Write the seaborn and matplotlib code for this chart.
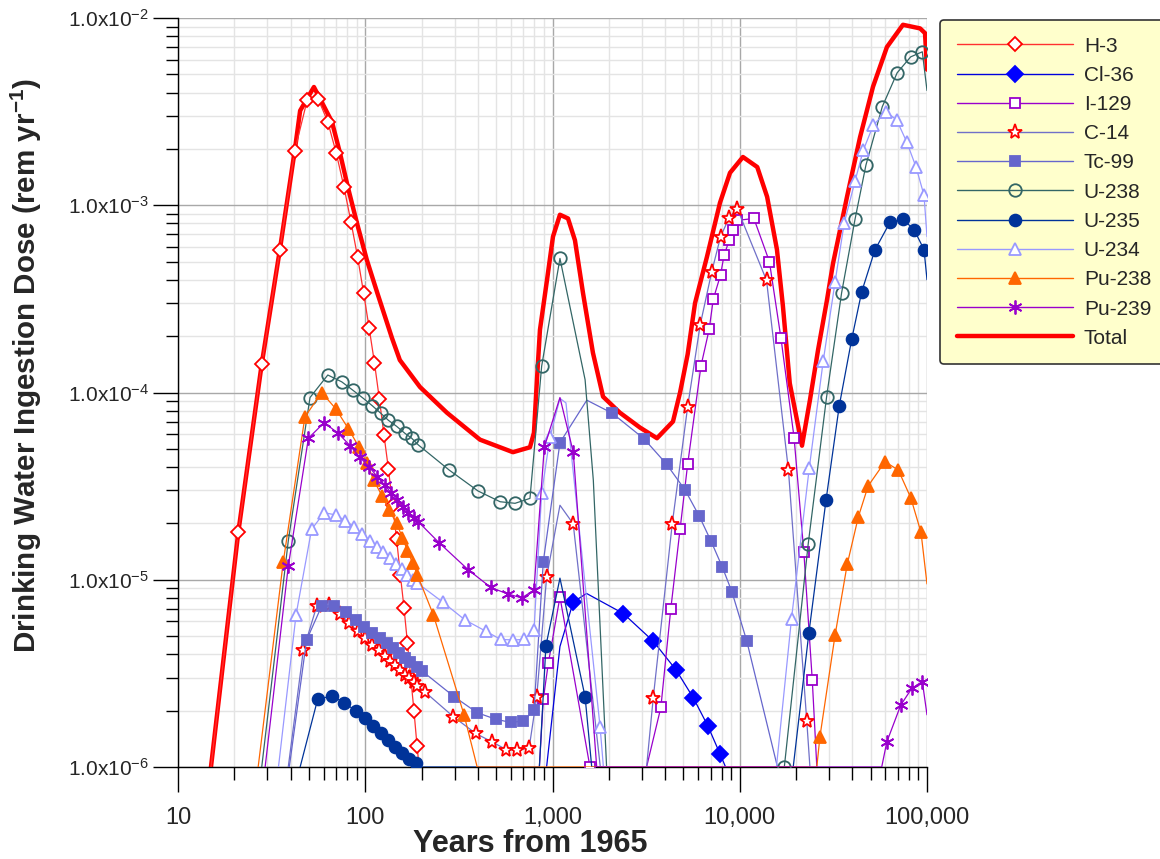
import numpy as np
import matplotlib
matplotlib.use("Agg")
import matplotlib.pyplot as plt
from matplotlib.lines import Line2D
from matplotlib.ticker import FixedLocator, LogLocator, NullFormatter
import seaborn as sns

# ---------------- data (years from 1965, dose rem/yr) ----------------
SERIES = ["H-3", "Cl-36", "I-129", "C-14", "Tc-99", "U-238", "U-235", "U-234", "Pu-238", "Pu-239", "Total"]

# marker points
H3_X = [21, 28, 35, 42, 49, 56, 63, 70, 77, 84, 91, 98, 105, 112, 119, 126, 133, 140, 147, 154, 161, 168, 175, 182, 189]
H3_Y = [1.8e-5, 1.42e-4, 5.8e-4, 1.95e-3, 3.65e-3, 3.7e-3, 2.8e-3, 1.9e-3, 1.25e-3, 8.1e-4, 5.3e-4, 3.4e-4, 2.2e-4,
        1.44e-4, 9.2e-5, 5.9e-5, 3.9e-5, 2.5e-5, 1.65e-5, 1.06e-5, 7.1e-6, 4.6e-6, 3.0e-6, 2.0e-6, 1.3e-6]
# line-only points
H3_LX = [15, 194]
H3_LY = [1e-6, 1e-6]

CL36_X = [1290, 2390, 3450, 4570, 5650, 6750, 7860]
CL36_Y = [7.6e-6, 6.6e-6, 4.7e-6, 3.3e-6, 2.34e-6, 1.66e-6, 1.17e-6]
CL36_LX = [930, 1096, 1520, 8400]
CL36_LY = [1e-6, 4.4e-6, 8.45e-6, 1e-6]

I129_X = [893, 950, 1096, 1585, 3790, 4280, 4800, 5270, 6210, 6870, 7220, 7900, 8240, 8790, 9240, 9700, 11900,
          14400, 16600, 19500, 22000, 24400]
I129_Y = [2.31e-6, 3.58e-6, 8.1e-6, 1.0e-6, 2.08e-6, 6.95e-6, 1.86e-5, 4.14e-5, 1.39e-4, 2.18e-4, 3.15e-4, 4.25e-4,
          5.4e-4, 6.5e-4, 7.4e-4, 8.3e-4, 8.5e-4, 5.0e-4, 1.95e-4, 5.75e-5, 1.4e-5, 2.9e-6]
I129_LX = [851, 3180, 25800]
I129_LY = [1e-6, 1e-6, 1e-6]

C14_X = [46.7, 55, 64, 73, 82, 91, 100, 109, 118, 127, 136, 145, 154, 163, 172, 181, 190, 208, 295, 389, 477, 565,
         649, 750, 824, 930, 1290, 3450, 4360, 5270, 6140, 7080, 7900, 8790, 9700, 13900, 18200, 22800]
C14_Y = [4.2e-6, 7.2e-6, 7.3e-6, 6.6e-6, 5.9e-6, 5.3e-6, 4.9e-6, 4.5e-6, 4.2e-6, 3.9e-6, 3.7e-6, 3.5e-6, 3.3e-6,
         3.1e-6, 3.0e-6, 2.85e-6, 2.7e-6, 2.52e-6, 1.86e-6, 1.51e-6, 1.36e-6, 1.24e-6, 1.23e-6, 1.26e-6, 2.37e-6,
         1.03e-5, 1.99e-5, 2.33e-6, 1.99e-5, 8.4e-5, 2.28e-4, 4.4e-4, 6.8e-4, 8.6e-4, 9.6e-4, 3.97e-4, 3.85e-5, 1.76e-6]
C14_LX = [38.8, 1096, 1800, 3180, 23700]
C14_LY = [1e-6, 2.5e-5, 1e-6, 1e-6, 1e-6]

TC99_X = [48.6, 58.5, 68.1, 78.6, 89, 99, 109, 120, 130, 140, 152, 163, 174, 188, 200, 299, 396, 497, 598, 698, 797,
          893, 1096, 2085, 3080, 4070, 5110, 6060, 7020, 8070, 9090, 10900]
TC99_Y = [4.76e-6, 7.24e-6, 7.24e-6, 6.75e-6, 6.1e-6, 5.6e-6, 5.2e-6, 4.86e-6, 4.57e-6, 4.31e-6, 4.05e-6, 3.83e-6,
          3.64e-6, 3.43e-6, 3.27e-6, 2.37e-6, 1.95e-6, 1.80e-6, 1.73e-6, 1.76e-6, 2.01e-6, 1.25e-5, 5.4e-5, 7.75e-5,
          5.66e-5, 4.14e-5, 3.01e-5, 2.2e-5, 1.61e-5, 1.17e-5, 8.6e-6, 4.71e-6]
TC99_LX = [39.3, 1525, 15900]
TC99_LY = [1e-6, 9.1e-5, 1e-6]

U238_X = [38.8, 50.7, 63.1, 74.9, 85.7, 97.7, 109, 121, 133, 147, 163, 177, 192, 281, 400, 525, 631, 758, 875, 1096,
          17300, 23200, 29100, 35000, 41300, 47200, 57700, 69300, 81800, 94400]
U238_Y = [1.61e-5, 9.4e-5, 1.24e-4, 1.14e-4, 1.03e-4, 9.3e-5, 8.5e-5, 7.75e-5, 7.1e-5, 6.6e-5, 6.05e-5, 5.7e-5,
          5.25e-5, 3.85e-5, 2.98e-5, 2.61e-5, 2.56e-5, 2.72e-5, 1.38e-4, 5.2e-4, 1.0e-6, 1.55e-5, 9.5e-5, 3.41e-4,
          8.45e-4, 1.64e-3, 3.36e-3, 5.1e-3, 6.2e-3, 6.6e-3]
U238_LX = [28, 1493, 1652, 1945, 100000]
U238_LY = [1e-6, 1.17e-4, 3.4e-5, 1e-6, 4.1e-3]

U235_X = [55.7, 66.7, 77.1, 89, 99.7, 110, 121, 133, 145, 158, 172, 187, 922, 1493, 23400, 28900, 34000, 39600,
          44800, 52700, 63400, 74600, 85300, 96400]
U235_Y = [2.3e-6, 2.4e-6, 2.2e-6, 2.0e-6, 1.82e-6, 1.66e-6, 1.51e-6, 1.39e-6, 1.28e-6, 1.19e-6, 1.11e-6, 1.05e-6,
          4.43e-6, 2.37e-6, 5.2e-6, 2.67e-5, 8.5e-5, 1.92e-4, 3.45e-4, 5.77e-4, 8.1e-4, 8.4e-4, 7.4e-4, 5.8e-4]
U235_LX = [44.9, 195, 851, 1096, 1620, 19300, 100000]
U235_LY = [1e-6, 1e-6, 1e-6, 1.02e-5, 1e-6, 1e-6, 4.0e-4]

U234_X = [42.7, 51.7, 60.4, 69.5, 78, 87.1, 96.4, 106, 115, 125, 136, 146, 157, 168, 179, 190, 259, 341, 442, 529,
          618, 705, 797, 875, 970, 1795, 18900, 23500, 27900, 32300, 36100, 41300, 45700, 51700, 60400, 68900,
          77900, 87400, 96400]
U234_Y = [6.5e-6, 1.86e-5, 2.28e-5, 2.22e-5, 2.07e-5, 1.92e-5, 1.75e-5, 1.62e-5, 1.50e-5, 1.40e-5, 1.30e-5,
          1.21e-5, 1.14e-5, 1.06e-5, 9.97e-6, 9.6e-6, 7.6e-6, 6.1e-6, 5.3e-6, 4.8e-6, 4.77e-6, 4.8e-6, 5.4e-6,
          2.9e-5, 5.8e-5, 1.64e-6, 6.2e-6, 3.94e-5, 1.47e-4, 3.9e-4, 8.0e-4, 1.35e-3, 1.97e-3, 2.68e-3, 3.16e-3,
          2.85e-3, 2.18e-3, 1.60e-3, 1.13e-3]
U234_LX = [34.4, 1096, 1180, 1870, 15700, 100000]
U234_LY = [1e-6, 9.3e-5, 8.8e-5, 1e-6, 1e-6, 6.8e-4]

PU238_X = [36.5, 47.6, 58.5, 69.5, 81.3, 92.7, 102, 111, 123, 134, 147, 158, 168, 179, 190, 231, 337, 26800, 32300,
           37500, 43000, 48500, 59700, 70300, 81900, 92900]
PU238_Y = [1.25e-5, 7.4e-5, 1.0e-4, 8.2e-5, 6.4e-5, 5.1e-5, 4.2e-5, 3.4e-5, 2.8e-5, 2.36e-5, 2.0e-5, 1.68e-5,
           1.43e-5, 1.23e-5, 1.06e-5, 6.5e-6, 1.9e-6, 1.45e-6, 5.07e-6, 1.21e-5, 2.17e-5, 3.17e-5, 4.27e-5,
           3.85e-5, 2.74e-5, 1.79e-5]
PU238_LX = [26.8, 396, 25800, 100000]
PU238_LY = [1e-6, 1e-6, 1e-6, 9.5e-6]

PU239_X = [38.8, 49.7, 60.3, 71.8, 83, 93.8, 105, 116, 127, 138, 148, 160, 170, 181, 192, 249, 355, 468, 576, 685,
           796, 904, 1291, 61000, 72400, 82900, 94400]
PU239_Y = [1.18e-5, 5.7e-5, 6.9e-5, 6.05e-5, 5.2e-5, 4.5e-5, 4.0e-5, 3.55e-5, 3.2e-5, 2.9e-5, 2.67e-5, 2.45e-5,
           2.26e-5, 2.15e-5, 2.04e-5, 1.57e-5, 1.13e-5, 9.1e-6, 8.4e-6, 8.0e-6, 8.8e-6, 5.1e-5, 4.8e-5, 1.36e-6,
           2.14e-6, 2.63e-6, 2.86e-6]
PU239_LX = [29.2, 1096, 1722, 57300, 100000]
PU239_LY = [1e-6, 9.4e-5, 1e-6, 1e-6, 1.9e-6]

TOTAL_X = [15, 21, 28, 35, 42, 44.9, 53.2, 66.4, 73.3, 80.9, 90.4, 102, 116, 139, 153, 196, 273, 410, 615, 758, 796,
           826, 857, 935, 1006, 1096, 1210, 1318, 1455, 1644, 1862, 2291, 2931, 3614, 4400, 4800, 5270, 5770, 6680,
           7840, 8870, 10400, 12400, 14000, 15800, 17000, 18500, 21500, 23700, 26200, 29200, 31500, 37400, 43900,
           51500, 61100, 74400, 91800, 97600, 100000]
TOTAL_Y = [1e-6, 1.8e-5, 1.42e-4, 5.8e-4, 1.95e-3, 3.2e-3, 4.28e-3, 2.79e-3, 1.9e-3, 1.24e-3, 8.0e-4, 5.1e-4,
           3.4e-4, 1.95e-4, 1.49e-4, 1.07e-4, 7.8e-5, 5.6e-5, 4.8e-5, 5.1e-5, 6.1e-5, 1.17e-4, 2.16e-4, 4.0e-4,
           6.8e-4, 8.9e-4, 8.5e-4, 6.5e-4, 3.4e-4, 1.63e-4, 9.5e-5, 7.8e-5, 6.5e-5, 5.7e-5, 7.0e-5, 1.0e-4, 1.6e-4,
           3.0e-4, 5.3e-4, 1.03e-3, 1.49e-3, 1.81e-3, 1.60e-3, 1.11e-3, 5.8e-4, 2.9e-4, 1.12e-4, 5.2e-5, 9.1e-5,
           1.69e-4, 3.1e-4, 4.9e-4, 1.11e-3, 2.31e-3, 4.3e-3, 7.0e-3, 9.2e-3, 8.8e-3, 8.3e-3, 5.3e-3]

X_TICKS = [10, 100, 1000, 10000, 100000]
X_TICK_LABELS = ["10", "100", "1,000", "10,000", "100,000"]
Y_TICKS = [1e-6, 1e-5, 1e-4, 1e-3, 1e-2]
Y_TICK_LABELS = [r"$\mathregular{1.0x10^{-6}}$", r"$\mathregular{1.0x10^{-5}}$", r"$\mathregular{1.0x10^{-4}}$",
                 r"$\mathregular{1.0x10^{-3}}$", r"$\mathregular{1.0x10^{-2}}$"]

# ---------------- styling ----------------
sns.set_style("white")
plt.rcParams["font.family"] = ["Liberation Sans", "DejaVu Sans"]

W, H = 1160, 859
fig = plt.figure(figsize=(W / 100, H / 100), dpi=100)
ax = fig.add_axes([178 / W, 1 - 767 / H, (927 - 178) / W, (767 - 18) / H])
ax.set_xscale("log")
ax.set_yscale("log")

# name: (mx, my, lx, ly, line color, marker, ms, face, edge)
STYLE = {
    "H-3":   (H3_X, H3_Y, H3_LX, H3_LY, "#FF3030", "D", 7.5, "white", "#FF0000"),
    "Cl-36": (CL36_X, CL36_Y, CL36_LX, CL36_LY, "#0000DD", "D", 8, "#0000FF", "#0000FF"),
    "I-129": (I129_X, I129_Y, I129_LX, I129_LY, "#9900CC", "s", 7.5, "white", "#9900CC"),
    "C-14":  (C14_X, C14_Y, C14_LX, C14_LY, "#7070C8", "*", 11, "white", "#FF0000"),
    "Tc-99": (TC99_X, TC99_Y, TC99_LX, TC99_LY, "#6666CC", "s", 7.5, "#6666CC", "#6666CC"),
    "U-238": (U238_X, U238_Y, U238_LX, U238_LY, "#336666", "o", 9, "none", "#336666"),
    "U-235": (U235_X, U235_Y, U235_LX, U235_LY, "#003399", "o", 8.5, "#003399", "#003399"),
    "U-234": (U234_X, U234_Y, U234_LX, U234_LY, "#9999FF", "^", 9, "white", "#9999FF"),
    "Pu-238": (PU238_X, PU238_Y, PU238_LX, PU238_LY, "#FF6600", "^", 9, "#FF6600", "#FF6600"),
    "Pu-239": (PU239_X, PU239_Y, PU239_LX, PU239_LY, "#9900CC", (6, 2, 0), 10, "#9900CC", "#9900CC"),
}

# total first (drawn beneath)
sns.lineplot(x=TOTAL_X, y=TOTAL_Y, ax=ax, sort=False, estimator=None, color="#FF0000",
             linewidth=3.2, zorder=2, legend=False)

handles = []
z = 3
for name in SERIES[:-1]:
    mx, my, lx, ly, lc, mk, ms, fc, ec = STYLE[name]
    xs = np.array(list(mx) + list(lx), dtype=float)
    ys = np.array(list(my) + list(ly), dtype=float)
    flag = np.array([True] * len(mx) + [False] * len(lx))
    order = np.argsort(xs, kind="stable")
    xs, ys, flag = xs[order], ys[order], flag[order]
    idx = list(np.nonzero(flag)[0])
    sns.lineplot(x=xs, y=ys, ax=ax, sort=False, estimator=None, color=lc, linewidth=0.9,
                 marker=mk, markevery=idx, markersize=ms, markerfacecolor=fc,
                 markeredgecolor=ec, markeredgewidth=1.3, zorder=z, legend=False)
    z += 0.1
    handles.append(Line2D([], [], color=lc, linewidth=1.0, marker=mk, markersize=ms,
                          markerfacecolor=fc, markeredgecolor=ec, markeredgewidth=1.3, label=name))
handles.append(Line2D([], [], color="#FF0000", linewidth=3.2, label="Total"))

ax.set_xlim(10, 100000)
ax.set_ylim(1e-6, 1e-2)

# grid
ax.xaxis.set_minor_locator(LogLocator(base=10, subs=np.arange(2, 10)))
ax.yaxis.set_minor_locator(LogLocator(base=10, subs=np.arange(2, 10)))
ax.xaxis.set_minor_formatter(NullFormatter())
ax.yaxis.set_minor_formatter(NullFormatter())
ax.xaxis.set_major_locator(FixedLocator(X_TICKS))
ax.yaxis.set_major_locator(FixedLocator(Y_TICKS))
ax.set_xticklabels(X_TICK_LABELS)
ax.set_yticklabels(Y_TICK_LABELS)
ax.grid(which="major", color="#A8A8A8", linewidth=1.0, zorder=0)
ax.grid(which="minor", color="#E4E4E4", linewidth=1.0, zorder=0)
ax.set_axisbelow(True)

for s in ["top", "right"]:
    ax.spines[s].set_visible(False)
for s in ["left", "bottom"]:
    ax.spines[s].set_color("black")
    ax.spines[s].set_linewidth(1.0)

ax.tick_params(axis="both", which="both", bottom=True, left=True, top=False, right=False)
ax.tick_params(axis="both", which="major", direction="out", length=18, width=1, color="black")
ax.tick_params(axis="both", which="minor", direction="out", length=9, width=1, color="black")
ax.tick_params(axis="x", which="major", labelsize=17, pad=11)
ax.tick_params(axis="y", which="major", labelsize=15, pad=3)

ax.set_xlabel("Years from 1965", fontsize=22, fontweight="bold",
              family=["Liberation Sans Narrow", "Liberation Sans"])
ax.xaxis.set_label_coords((530 - 178) / 749, (767 - 829) / 749)
ax.set_ylabel(r"Drinking Water Ingestion Dose (rem yr$\mathregular{^{-1}}$)", fontsize=21.3, fontweight="bold",
              family=["Liberation Sans Narrow", "Liberation Sans"])
ax.yaxis.set_label_coords((44 - 178) / 749, (767 - 365) / 749)

leg = fig.legend(handles=handles, loc="upper left", bbox_to_anchor=(940 / W, 1 - 20 / H),
                 frameon=True, fancybox=True, facecolor="#FFFFCC", edgecolor="#333333", framealpha=1,
                 fontsize=15, handlelength=5.6, labelspacing=0.49, borderpad=0.8, handletextpad=0.5,
                 borderaxespad=0)
leg.get_frame().set_linewidth(1.2)

fig.savefig("out.png", dpi=100)
